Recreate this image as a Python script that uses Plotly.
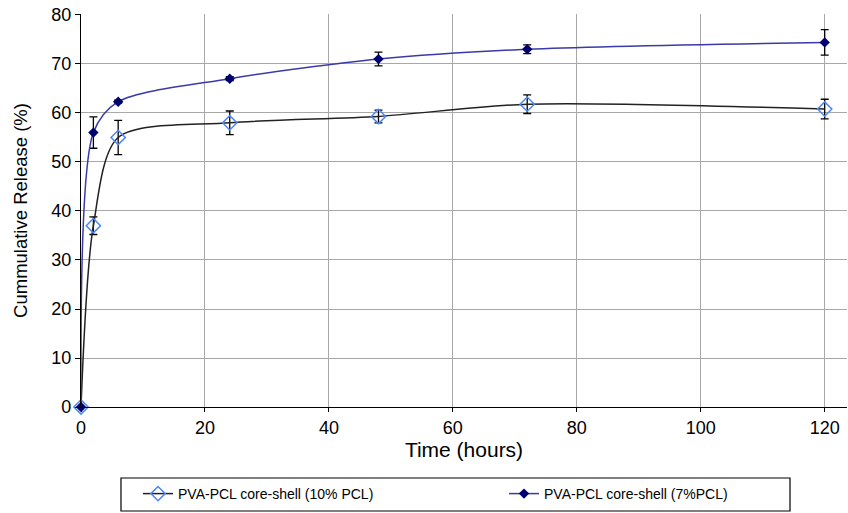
import plotly.graph_objects as go

time_h = [0, 2, 6, 24, 48, 72, 120]
pcl10 = [0, 37, 55, 58, 59.3, 61.8, 60.8]
pcl10_err = [None, 1.8, 3.5, 2.4, 1.3, 1.9, 2.0]
pcl7 = [0, 56, 62.3, 67, 71, 73, 74.4]
pcl7_err = [None, 3.2, 0.3, 0.4, 1.4, 0.9, 2.6]

names = ["PVA-PCL core-shell (10% PCL)", "PVA-PCL core-shell (7%PCL)"]

fig = go.Figure()
fig.add_trace(go.Scatter(
    x=time_h, y=pcl10, name=names[0], mode="lines+markers", cliponaxis=False,
    line=dict(color="#222222", width=1.5, shape="spline", smoothing=0.8),
    marker=dict(symbol="diamond-open", size=11, color="#4f86f7", line=dict(width=1.5)),
    error_y=dict(type="data", array=pcl10_err, visible=True, color="black", thickness=1.3, width=4),
))
fig.add_trace(go.Scatter(
    x=time_h, y=pcl7, name=names[1], mode="lines+markers", cliponaxis=False,
    line=dict(color="#3a3aa8", width=1.5, shape="spline", smoothing=0.8),
    marker=dict(symbol="diamond", size=8, color="#000070"),
    error_y=dict(type="data", array=pcl7_err, visible=True, color="black", thickness=1.3, width=4),
))

# legend frame
fig.add_shape(type="rect", xref="paper", yref="paper",
              x0=0.0522, x1=0.9256, y0=-0.2646, y1=-0.1807,
              line=dict(color="black", width=1.2), fillcolor="rgba(0,0,0,0)")

fig.update_layout(
    width=848, height=513,
    margin=dict(l=81, r=1, t=14, b=106, autoexpand=False),
    paper_bgcolor="white", plot_bgcolor="white",
    font=dict(family="Liberation Sans, Arial, sans-serif", color="black"),
    showlegend=True,
    legend=dict(
        orientation="h", xref="container", yref="container",
        x=138 / 848, y=1 - 494 / 513, xanchor="left", yanchor="middle",
        borderwidth=0, bgcolor="rgba(0,0,0,0)", font=dict(size=14),
        entrywidth=321, entrywidthmode="pixels",
    ),
    xaxis=dict(
        range=[0, 123.6], tickvals=[0, 20, 40, 60, 80, 100, 120],
        showgrid=True, gridcolor="#a8a8a8", gridwidth=1.3,
        showline=True, linecolor="black", linewidth=1.3,
        ticks="outside", ticklen=4, tickcolor="black",
        tickfont=dict(size=18), automargin=False,
        title=dict(text="Time (hours)", font=dict(size=21), standoff=3),
        zeroline=False,
    ),
    yaxis=dict(
        range=[0, 80.2], tickvals=[0, 10, 20, 30, 40, 50, 60, 70, 80],
        showgrid=True, gridcolor="#a8a8a8", gridwidth=1.3,
        showline=True, linecolor="black", linewidth=1.3,
        ticks="outside", ticklen=5, tickcolor="black",
        tickfont=dict(size=18), automargin=False,
        title=dict(text="Cummulative Release (%)", font=dict(size=18.5), standoff=18),
        zeroline=False,
    ),
)

# remove the default 8px page margin so the figure sits at the window's corner
fig.write_html("out.html", config={"displayModeBar": False},
               post_script="document.body.style.margin='0';")
